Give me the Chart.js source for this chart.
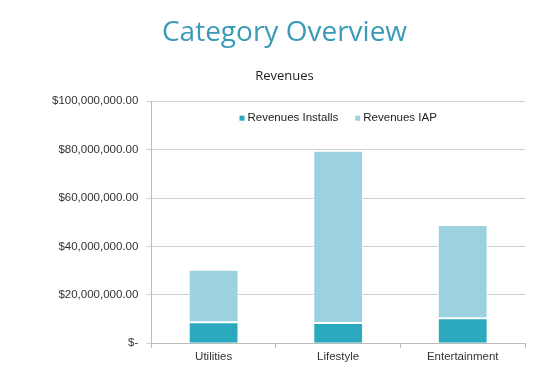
<!DOCTYPE html>
<html>
<head>
<meta charset="utf-8">
<script src="https://cdn.jsdelivr.net/npm/chart.js@4"></script>
<style>
  html, body { margin: 0; padding: 0; background: #fff; }
  #wrap { width: 546px; height: 376px; }
</style>
</head>
<body>
<div id="wrap"><canvas id="myChart"></canvas></div>
<script>
const categories = ['Utilities', 'Lifestyle', 'Entertainment'];
const revenuesInstalls = [8700000, 8300000, 10300000];
const revenuesIAP = [21700000, 71200000, 38500000];
const yTicks = [0, 20000000, 40000000, 60000000, 80000000, 100000000];

const ctx = document.getElementById('myChart');

function money(v) {
  if (v === 0) return '$-';
  return '$' + v.toLocaleString('en-US', { minimumFractionDigits: 2, maximumFractionDigits: 2 });
}

// legend drawn in a row inside the top of the plot, like the original
const insideLegend = {
  id: 'insideLegend',
  afterDraw(chart) {
    const c = chart.ctx;
    const area = chart.chartArea;
    const sets = chart.data.datasets;
    c.save();
    c.font = '11.5px "Liberation Sans"';
    c.textBaseline = 'middle';
    const box = 5, gap = 3, spacing = 17;
    const widths = sets.map(d => box + gap + c.measureText(d.label).width);
    const total = widths.reduce((a, b) => a + b, 0) + spacing * (sets.length - 1);
    let x = (area.left + area.right) / 2 - total / 2;
    const y = area.top + 17;
    sets.forEach((d, i) => {
      c.fillStyle = d.backgroundColor;
      c.fillRect(x, y - box / 2, box, box);
      c.fillStyle = '#222';
      c.fillText(d.label, x + box + gap, y);
      x += widths[i] + spacing;
    });
    c.restore();
  }
};

new Chart(ctx, {
  type: 'bar',
  data: {
    labels: categories,
    datasets: [{
      label: 'Revenues Installs',
      data: revenuesInstalls,
      backgroundColor: '#2aa9bf',
      borderColor: '#ffffff',
      borderWidth: 1,
      borderSkipped: 'bottom',
      barPercentage: 0.4,
      categoryPercentage: 1
    },
    {
      label: 'Revenues IAP',
      data: revenuesIAP,
      backgroundColor: '#9cd1e0',
      borderColor: '#ffffff',
      borderWidth: 1,
      borderSkipped: false,
      barPercentage: 0.4,
      categoryPercentage: 1
    }]
  },
  options: {
    responsive: true,
    maintainAspectRatio: false,
    animation: false,
    layout: { padding: { left: 44, right: 21, bottom: 10 } },
    plugins: {
      title: {
        display: true,
        text: 'Category Overview',
        color: '#3a9bb7',
        font: { family: 'Open Sans', size: 28, weight: 'normal' },
        padding: { top: 16, bottom: 19 }
      },
      subtitle: {
        display: true,
        text: 'Revenues',
        color: '#222',
        font: { family: 'Open Sans', size: 13 },
        padding: { top: 0, bottom: 17 }
      },
      legend: { display: false },
      tooltip: { enabled: false }
    },
    scales: {
      x: {
        stacked: true,
        grid: { offset: true, drawOnChartArea: false, tickLength: 5, color: '#bbb' },
        border: { color: '#bbb' },
        ticks: { color: '#333', font: { family: 'Liberation Sans', size: 11.5 }, padding: 2 }
      },
      y: {
        stacked: true,
        min: 0,
        max: 100000000,
        afterBuildTicks: (axis) => { axis.ticks = yTicks.map(v => ({ value: v })); },
        grid: { color: '#d0d0d0', tickLength: 5 },
        border: { color: '#bbb' },
        ticks: {
          color: '#333',
          padding: 8,
          font: { family: 'Liberation Sans', size: 11.5 },
          callback: (v) => money(v)
        }
      }
    }
  },
  plugins: [insideLegend]
});
</script>
</body>
</html>
